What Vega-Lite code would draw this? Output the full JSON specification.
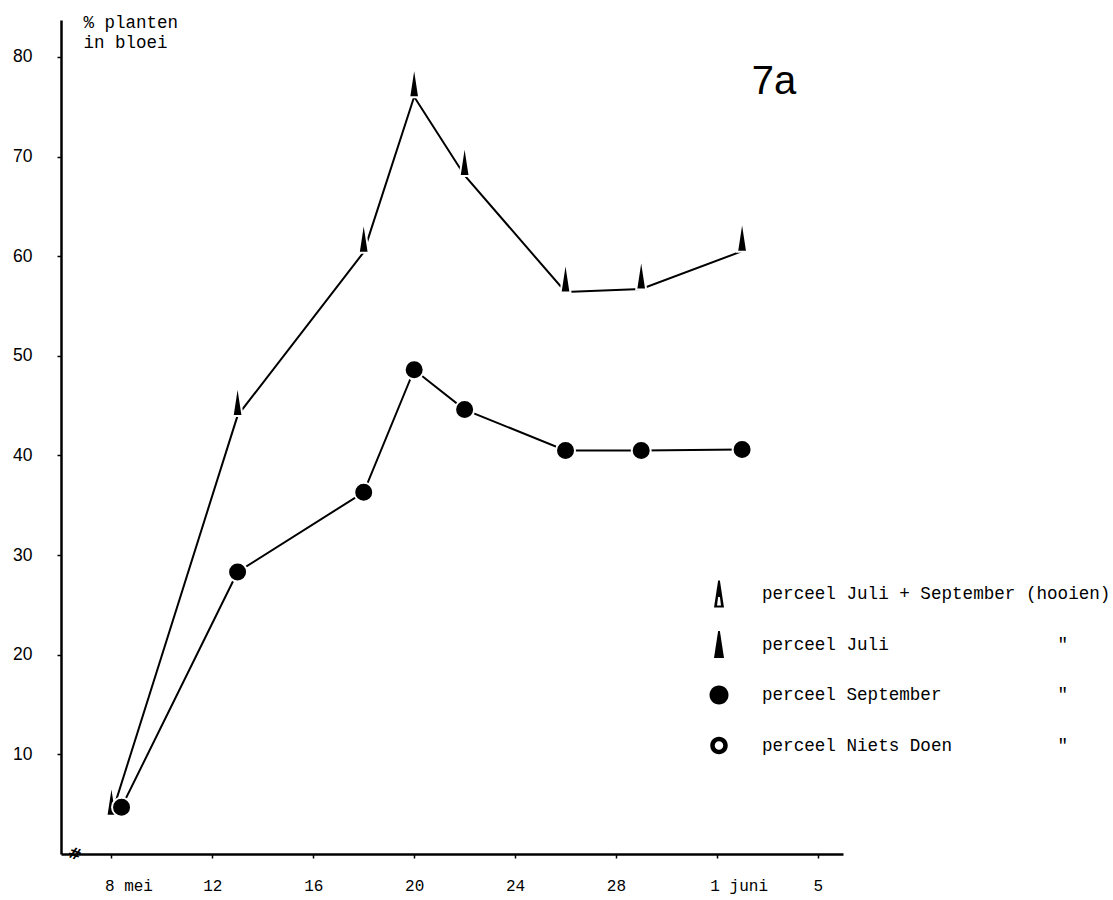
{
  "$schema": "https://vega.github.io/schema/vega-lite/v6.json",
  "width": 782,
  "height": 834,
  "autosize": {"type": "none"},
  "padding": {"left": 61, "top": 20, "right": 270, "bottom": 46},
  "background": "white",
  "config": {"view": {"stroke": null}},
  "datasets": {
    "metingen": [
      {"dag": 8, "pct": 3.9, "perceel": "perceel Juli"},
      {"dag": 13, "pct": 44.0, "perceel": "perceel Juli"},
      {"dag": 18, "pct": 60.4, "perceel": "perceel Juli"},
      {"dag": 20, "pct": 76.0, "perceel": "perceel Juli"},
      {"dag": 22, "pct": 68.1, "perceel": "perceel Juli"},
      {"dag": 26, "pct": 56.4, "perceel": "perceel Juli"},
      {"dag": 29, "pct": 56.7, "perceel": "perceel Juli"},
      {"dag": 33, "pct": 60.5, "perceel": "perceel Juli"},
      {"dag": 8.4, "pct": 4.7, "perceel": "perceel September"},
      {"dag": 13, "pct": 28.3, "perceel": "perceel September"},
      {"dag": 18, "pct": 36.3, "perceel": "perceel September"},
      {"dag": 20, "pct": 48.6, "perceel": "perceel September"},
      {"dag": 22, "pct": 44.6, "perceel": "perceel September"},
      {"dag": 26, "pct": 40.5, "perceel": "perceel September"},
      {"dag": 29, "pct": 40.5, "perceel": "perceel September"},
      {"dag": 33, "pct": 40.6, "perceel": "perceel September"}
    ],
    "teksten": [
      {"dag": 34.26, "pct": 77.5, "tekst": "7a"}
    ],
    "breuk": [
      {"dag": 6.55, "pct": 0, "tekst": "#"}
    ]
  },
  "layer": [
    {
      "data": {"name": "metingen"},
      "mark": {"type": "line", "color": "black", "strokeWidth": 2},
      "encoding": {
        "x": {
          "field": "dag", "type": "quantitative",
          "scale": {"domain": [6, 37], "nice": false, "zero": false},
          "axis": {
            "title": null,
            "values": [8, 12, 16, 20, 24, 28, 32, 36],
            "labelExpr": "datum.value == 8 ? '8 mei' : datum.value == 32 ? '1 juni' : datum.value == 36 ? '5' : datum.label",
            "labelFont": "Liberation Mono",
            "labelFontSize": 16,
            "labelColor": "black",
            "labelAlign": {"condition": {"test": "datum.value == 8 || datum.value == 32", "value": "left"}, "value": "center"},
            "labelOffset": {"condition": {"test": "datum.value == 8 || datum.value == 32", "value": -7}, "value": 0},
            "labelPadding": 19,
            "labelFlush": false,
            "labelOverlap": false,
            "tickSize": 4,
            "tickWidth": 1.5,
            "tickColor": "black",
            "domainColor": "black",
            "domainWidth": 2.5,
            "grid": false
          }
        },
        "y": {
          "field": "pct", "type": "quantitative",
          "scale": {"domain": [0, 83.7], "nice": false},
          "axis": {
            "values": [10, 20, 30, 40, 50, 60, 70, 80],
            "title": ["% planten", "\u00a0\u00a0in bloei"],
            "titleAngle": 0,
            "titleAlign": "left",
            "titleBaseline": "alphabetic",
            "titleX": 22,
            "titleY": 7,
            "titleFont": "Liberation Mono",
            "titleFontSize": 17.5,
            "titleFontWeight": "normal",
            "titleLineHeight": 20,
            "titleColor": "black",
            "labelFont": "Liberation Sans",
            "labelFontSize": 17.5,
            "labelColor": "black",
            "labelPadding": 25,
            "tickSize": 4,
            "tickWidth": 1.5,
            "tickColor": "black",
            "domainColor": "black",
            "domainWidth": 2.5,
            "grid": false
          }
        },
        "detail": {"field": "perceel", "type": "nominal"}
      }
    },
    {
      "data": {"name": "metingen"},
      "transform": [{"filter": "datum.perceel == 'perceel Juli'"}],
      "mark": {"type": "point", "filled": true, "fill": "black", "stroke": "white", "strokeWidth": 2, "opacity": 1, "size": 2500, "yOffset": -13},
      "encoding": {
        "x": {"field": "dag", "type": "quantitative"},
        "y": {"field": "pct", "type": "quantitative"},
        "shape": {
          "field": "perceel", "type": "nominal",
          "scale": {
            "domain": ["perceel Juli + September (hooien)", "perceel Juli", "perceel September", "perceel Niets Doen"],
            "range": [
              "M-0.2,0.54L-0.035,-0.54L0.035,-0.54L0.2,0.54Z M-0.08,0.46L0.08,0.46L0.035,0.12L-0.035,0.12Z",
              "M-0.2,0.54L-0.035,-0.54L0.035,-0.54L0.2,0.54Z",
              "M-0.38,0A0.38,0.38 0 1,1 0.38,0A0.38,0.38 0 1,1 -0.38,0Z",
              "M-0.35,0A0.35,0.35 0 1,1 0.35,0A0.35,0.35 0 1,1 -0.35,0Z M-0.17,0A0.17,0.17 0 1,0 0.17,0A0.17,0.17 0 1,0 -0.17,0Z"
            ]
          },
          "legend": {
            "orient": "none",
            "legendX": 632,
            "legendY": 548,
            "title": null,
            "padding": 0,
            "gridAlign": "all",
            "symbolSize": 2500,
            "symbolFillColor": "black",
            "symbolStrokeColor": "white",
            "symbolStrokeWidth": 2,
            "symbolOpacity": 1,
            "labelFont": "Liberation Mono",
            "labelFontSize": 17.6,
            "labelColor": "black",
            "labelOffset": 17,
            "labelLimit": 500,
            "rowPadding": 6.5,
            "labelExpr": "datum.label == 'perceel Juli + September (hooien)' ? datum.label : pad(datum.label, 28, '\u00a0') + '\"'"
          }
        }
      }
    },
    {
      "data": {"name": "metingen"},
      "transform": [{"filter": "datum.perceel == 'perceel September'"}],
      "mark": {"type": "point", "filled": true, "fill": "black", "stroke": "white", "strokeWidth": 2, "opacity": 1, "size": 2500},
      "encoding": {
        "x": {"field": "dag", "type": "quantitative"},
        "y": {"field": "pct", "type": "quantitative"},
        "shape": {"field": "perceel", "type": "nominal"}
      }
    },
    {
      "data": {"name": "teksten"},
      "mark": {"type": "text", "font": "Liberation Sans", "fontSize": 40, "color": "black", "align": "center", "baseline": "middle"},
      "encoding": {
        "x": {"field": "dag", "type": "quantitative"},
        "y": {"field": "pct", "type": "quantitative"},
        "text": {"field": "tekst"}
      }
    },
    {
      "data": {"name": "breuk"},
      "mark": {"type": "text", "font": "DejaVu Sans", "fontSize": 16, "fontWeight": "bold", "color": "black", "align": "center", "baseline": "middle", "angle": 20},
      "encoding": {
        "x": {"field": "dag", "type": "quantitative"},
        "y": {"field": "pct", "type": "quantitative"},
        "text": {"field": "tekst"}
      }
    }
  ]
}
